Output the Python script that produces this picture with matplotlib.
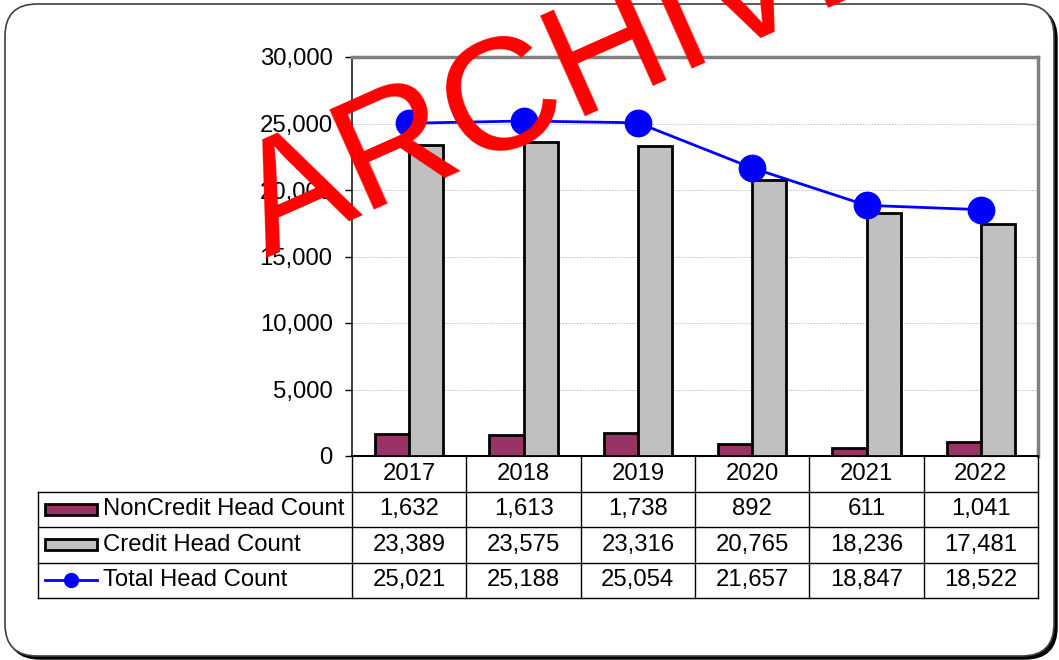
import numpy as np
import matplotlib
matplotlib.use("Agg")
import matplotlib.pyplot as plt
from matplotlib.patches import FancyBboxPatch, Rectangle
from matplotlib.lines import Line2D
from matplotlib.transforms import IdentityTransform
from matplotlib.ticker import FuncFormatter

plt.rcParams["font.family"] = ["Liberation Sans", "DejaVu Sans"]

years = ["2017", "2018", "2019", "2020", "2021", "2022"]
noncredit = [1632, 1613, 1738, 892, 611, 1041]
credit = [23389, 23575, 23316, 20765, 18236, 17481]
total = [25021, 25188, 25054, 21657, 18847, 18522]
series_names = ["NonCredit Head Count", "Credit Head Count", "Total Head Count"]

W, H = 1059, 660
fig = plt.figure(figsize=(W / 100, H / 100), dpi=100)

# rounded frame with a small shadow
shadow = FancyBboxPatch((8, 1), 1049, 652, boxstyle="round,pad=0,rounding_size=32",
                        transform=IdentityTransform(), facecolor="black",
                        edgecolor="black", zorder=-3)
frame = FancyBboxPatch((5, 4), 1049, 652, boxstyle="round,pad=0,rounding_size=32",
                       transform=IdentityTransform(), facecolor="white",
                       edgecolor="#404040", linewidth=1.2, zorder=-2)
fig.patches.extend([shadow, frame])

# plot area in pixels
px_l, px_r, px_t, px_b = 352, 1038, 57, 456
ax = fig.add_axes([px_l / W, 1 - px_b / H, (px_r - px_l) / W, (px_b - px_t) / H])
ax.set_facecolor("none")

x = np.arange(len(years))
bw = 0.3
ax.bar(x - bw / 2, noncredit, bw, color="#993366", edgecolor="black", linewidth=2, zorder=3)
ax.bar(x + bw / 2, credit, bw, color="#C0C0C0", edgecolor="black", linewidth=2, zorder=3)
ax.plot(x, total, color="#0000FF", linewidth=2, marker="o", markersize=19, zorder=4)

ax.set_xlim(-0.5, len(years) - 0.5)
ax.set_ylim(0, 30000)
ax.set_yticks(np.arange(0, 30001, 5000))
ax.yaxis.set_major_formatter(FuncFormatter(lambda v, p: f"{int(v):,}"))
ax.tick_params(axis="y", direction="out", length=5, width=1, pad=9, labelsize=17.2)
ax.set_xticks([])
ax.grid(axis="y", color="#C0C0C0", linestyle=(0, (1.5, 1.5)), linewidth=0.7, zorder=0)
for s in ["top", "right"]:
    ax.spines[s].set_color("#808080")
    ax.spines[s].set_linewidth(2.5)
ax.spines["left"].set_color("#202020")
ax.spines["left"].set_linewidth(1.2)
ax.spines["bottom"].set_color("black")
ax.spines["bottom"].set_linewidth(1.5)

# data table under the plot, same category scale
tb_l, tb_b = 38, 598
cat_w = (px_r - px_l) / len(years)
x0 = -0.5 - (px_l - tb_l) / cat_w
tax = fig.add_axes([tb_l / W, 1 - tb_b / H, (px_r - tb_l) / W, (tb_b - px_b) / H])
tax.set_xlim(x0, len(years) - 0.5)
tax.set_ylim(4, 0)
tax.axis("off")

lk = dict(color="black", linewidth=1, clip_on=False)
for r in range(1, 5):
    tax.plot([x0, len(years) - 0.5], [r, r], **lk)
for k in range(len(years) + 1):
    tax.plot([k - 0.5, k - 0.5], [0, 4], **lk)
tax.plot([x0, x0], [1, 4], **lk)

fs = 17.2
for i, yr in enumerate(years):
    tax.text(i, 0.5, yr, ha="center", va="center", fontsize=fs)
for r, vals in enumerate([noncredit, credit, total], start=1):
    for i, v in enumerate(vals):
        tax.text(i, r + 0.5, f"{v:,}", ha="center", va="center", fontsize=fs)

# legend keys in the first column
kx0 = x0 + 7 / cat_w
kw = 52 / cat_w
lx = x0 + 65 / cat_w
kh = 0.32
tax.add_patch(Rectangle((kx0, 1.5 - kh / 2), kw, kh, facecolor="#993366",
                        edgecolor="black", linewidth=2))
tax.add_patch(Rectangle((kx0, 2.5 - kh / 2), kw, kh, facecolor="#C0C0C0",
                        edgecolor="black", linewidth=2))
tax.add_line(Line2D([kx0, kx0 + kw], [3.5, 3.5], color="#0000FF", linewidth=2))
tax.plot([kx0 + kw / 2], [3.5], marker="o", color="#0000FF", markersize=10)
for r, name in enumerate(series_names, start=1):
    tax.text(lx, r + 0.5, name, ha="left", va="center", fontsize=fs)

# watermark
fig.text(266 / W, 1 - 258 / H, "ARCHIVE", color="#FF0000", fontsize=115,
         rotation=24, rotation_mode="anchor", ha="left", va="baseline", zorder=10)

fig.savefig("out.png", dpi=100)
